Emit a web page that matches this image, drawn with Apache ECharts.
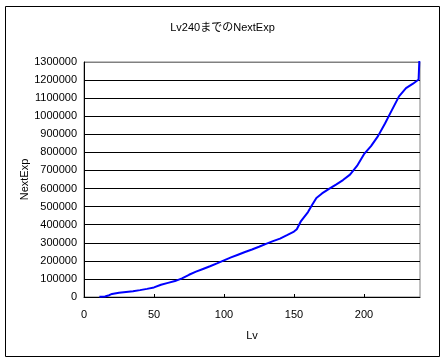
<!DOCTYPE html>
<html>
<head>
<meta charset="utf-8">
<script src="https://cdn.jsdelivr.net/npm/echarts@6/dist/echarts.min.js"></script>
<style>html,body{margin:0;padding:0;background:#fff;}#c{width:445px;height:363px;}</style>
</head>
<body>
<div id="c"></div>
<script>
var titleText = 'Lv240までのNextExp';
var xName = 'Lv';
var yName = 'NextExp';
var levels =  [11, 15, 18, 20, 25, 30, 35, 40, 45, 50, 55, 60, 65, 70, 75, 80, 85, 90, 95, 100, 105, 110, 115, 120, 125, 130, 135, 140, 145, 150, 152, 155, 160, 163, 166, 170, 175, 180, 185, 190, 195, 200, 205, 210, 215, 220, 225, 230, 235, 239, 240];
var nextExp = [1000, 3000, 10000, 17000, 24000, 28000, 32000, 38000, 45000, 53000, 68000, 78000, 88000, 103000, 123000, 140000, 155000, 170000, 186000, 203000, 219000, 234000, 249000, 263000, 278000, 294000, 309000, 323000, 342000, 362000, 375000, 420000, 470000, 510000, 548000, 573000, 598000, 622000, 647000, 677000, 725000, 790000, 835000, 890000, 960000, 1035000, 1110000, 1155000, 1180000, 1203000, 1400000];
var yMin = 0, yMax = 1300000, yStep = 100000;
var xMin = 0, xMax = 240, xStep = 50;

var font = 'Arial, "Liberation Sans", "Noto Sans CJK JP", sans-serif';
var chart = echarts.init(document.getElementById('c'), null, {renderer: 'canvas'});
var pts = levels.map(function (l, i) { return [l, nextExp[i]]; });
var nLines = Math.round((yMax - yMin) / yStep) + 1;
var gridColors = [];
for (var i = 0; i < nLines; i++) gridColors.push(i === nLines - 1 ? '#808080' : '#000');
chart.setOption({
  animation: false,
  backgroundColor: '#fff',
  title: {
    text: titleText, left: 'center', top: 17,
    textStyle: {fontSize: 11, fontWeight: 'normal', color: '#000', fontFamily: font}
  },
  graphic: [{
    type: 'rect', shape: {x: 5.5, y: 6.5, width: 434, height: 350},
    style: {fill: 'none', stroke: '#000', lineWidth: 1}, z: 100
  }],
  grid: {
    left: 84, right: 25, top: 62, bottom: 66,
    show: true, borderColor: '#808080', borderWidth: 1, backgroundColor: '#fff'
  },
  xAxis: {
    type: 'value', min: xMin, max: xMax, interval: xStep,
    name: xName, nameLocation: 'middle', nameGap: 33,
    nameTextStyle: {fontSize: 11, color: '#000', fontFamily: font},
    axisLine: {show: true, lineStyle: {color: '#000', width: 1}},
    axisTick: {show: true, inside: true, length: 3, lineStyle: {color: '#000'}},
    axisLabel: {fontSize: 11, color: '#000', fontFamily: font, margin: 12, showMaxLabel: false},
    splitLine: {show: false}
  },
  yAxis: {
    type: 'value', min: yMin, max: yMax, interval: yStep,
    name: yName, nameLocation: 'middle', nameGap: 54, nameRotate: 90, nameMoveOverlap: false,
    nameTextStyle: {fontSize: 11, color: '#000', fontFamily: font},
    axisLine: {show: true, lineStyle: {color: '#000', width: 1}},
    axisTick: {show: false},
    axisLabel: {fontSize: 11, color: '#000', fontFamily: font, margin: 7,
      formatter: function (v) { return String(v); }},
    splitLine: {show: true, lineStyle: {color: gridColors, width: 1}}
  },
  series: [{
    type: 'line', data: pts, showSymbol: false, symbol: 'none',
    clip: true,
    lineStyle: {color: '#0000FF', width: 2}
  }]
});
</script>
</body>
</html>
